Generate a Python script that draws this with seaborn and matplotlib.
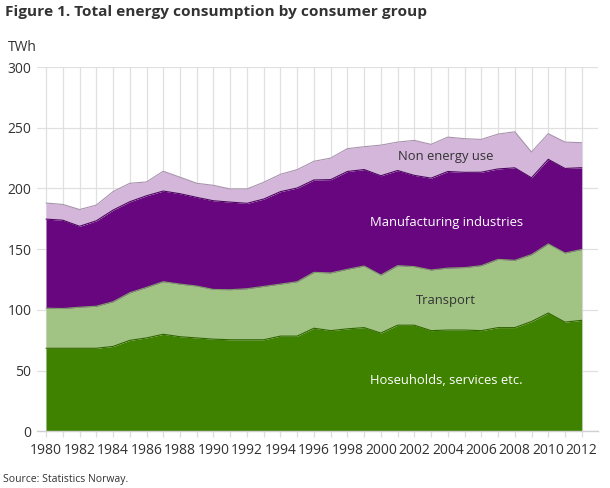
import matplotlib
matplotlib.use("Agg")
import matplotlib.pyplot as plt
import seaborn as sns
import numpy as np
import pandas as pd

years = list(range(1980, 2013))
households = [68.5, 68.5, 68.5, 68.5, 70, 75, 77, 80, 78, 77, 76, 75.5, 75.5, 75.5, 78.5, 78.5,
              85, 83, 84.5, 85.5, 81, 87.5, 87.5, 83, 83.5, 83.5, 83, 85.5, 85.5, 90.5, 97.5, 90, 91.5]
transport = [33.0, 32.7, 33.8, 34.6, 36.8, 39.2, 41.6, 43.3, 43.3, 42.7, 40.9, 41.2, 42.0, 43.9, 42.8, 44.8,
             46.0, 47.5, 49.0, 50.7, 47.8, 49.0, 48.2, 49.9, 51.0, 51.4, 53.5, 56.2, 55.4, 55.1, 56.9, 56.9, 58.3]
manufacturing = [73.3, 72.7, 66.6, 70.3, 75.4, 74.9, 75.4, 74.6, 74.4, 73.0, 73.0, 72.1, 70.3, 71.9, 76.1, 77.1,
                 76.0, 76.8, 80.5, 79.4, 81.7, 78.3, 75.1, 75.6, 79.5, 78.4, 76.9, 74.4, 76.1, 63.2, 69.6, 69.6, 67.3]
non_energy = [13.2, 13.0, 13.8, 12.9, 15.2, 15.2, 11.4, 16.3, 13.6, 11.6, 12.7, 10.8, 11.8, 13.8, 14.3, 15.1,
              15.4, 17.7, 18.8, 18.8, 25.2, 23.4, 28.8, 27.8, 28.3, 27.7, 27.0, 28.7, 29.7, 21.2, 21.1, 21.7, 20.6]

series_names = ["Hoseuholds, services etc.", "Transport", "Manufacturing industries", "Non energy use"]
series_vals = [households, transport, manufacturing, non_energy]
fill_colors = ["#3e8200", "#a1c485", "#67067f", "#d3b6da"]
edge_colors = ["#2f6400", "#7f9e68", "#4d0560", "#a893ad"]
label_colors = ["white", "#333333", "white", "#333333"]
label_pos = [(2003.9, 41.6), (2003.9, 107.6), (2003.9, 171.8), (2003.9, 226.5)]

sns.set_theme(style="whitegrid")
plt.rcParams['font.family'] = ['Open Sans', 'DejaVu Sans']

fig = plt.figure(figsize=(6.1, 4.88), dpi=100)
ax = fig.add_axes([0.0607, 0.1158, 0.9193, 0.7469])

x = np.array(years)
base = np.zeros(len(years))
for name, vals, fc, ec in zip(series_names, series_vals, fill_colors, edge_colors):
    top = base + np.array(vals)
    ax.fill_between(x, base, top, color=fc, linewidth=0, zorder=2)
    df = pd.DataFrame({"year": x, "value": top})
    sns.lineplot(data=df, x="year", y="value", ax=ax, color=ec, linewidth=0.8, zorder=3)
    base = top

for name, (lx, ly), lc in zip(series_names, label_pos, label_colors):
    ax.text(lx, ly, name, color=lc, fontsize=9.4, ha="center", va="center", zorder=4)

ax.set_xlim(1979.46, 2012.96)
ax.set_ylim(0, 300)
ax.set_xticks(years, minor=True)
ax.set_xticks(list(range(1980, 2013, 2)))
ax.set_yticks(list(range(0, 301, 50)))
ax.grid(True, which="both", axis="x", color="#e0e0e0", linewidth=0.9)
ax.grid(True, which="major", axis="y", color="#e0e0e0", linewidth=0.9)
ax.set_axisbelow(True)
for s in ["top", "right", "left"]:
    ax.spines[s].set_visible(False)
ax.spines["bottom"].set_color("#d0d0d0")
ax.spines["bottom"].set_linewidth(1.0)
ax.tick_params(axis="x", which="both", length=4, width=0.9, color="#dddddd", bottom=True)
ax.tick_params(axis="x", which="major", labelsize=10, labelcolor="#333333", pad=4)
ax.tick_params(axis="y", length=0, labelsize=10, colors="#333333", pad=4)
ax.set_xlabel("")
ax.set_ylabel("")

fig.text(0.0131, 0.902, "TWh", fontsize=10, color="#333333", ha="left", va="center")
fig.text(0.0082, 0.975, "Figure 1. Total energy consumption by consumer group",
         fontsize=11.1, fontweight="bold", color="#333333", ha="left", va="center")
fig.text(0.005, 0.018, "Source: Statistics Norway.", fontsize=7.5, color="#333333", ha="left", va="center")

fig.savefig("out.png", dpi=100)
